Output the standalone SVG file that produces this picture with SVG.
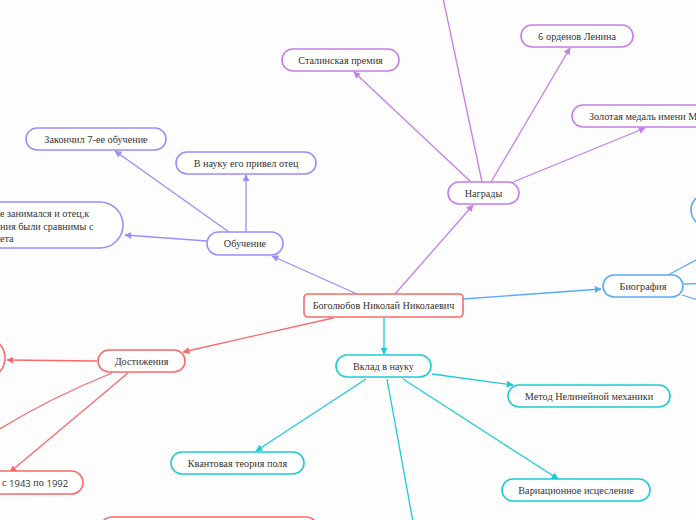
<svg xmlns="http://www.w3.org/2000/svg" width="696" height="520" viewBox="0 0 696 520">
<style>
text{font-family:"Liberation Serif","Times New Roman",serif;font-size:10.2px;fill:#333;text-anchor:middle;dominant-baseline:central}
.d{font-family:"Open Sans","DejaVu Sans",sans-serif;font-size:9.5px}
.n{fill:#fff;stroke-width:1.6}
.l{fill:none;stroke-width:1.3}
.red{stroke:#f86a6a}.vio{stroke:#9d8cfb}.pur{stroke:#c57ee9}.blu{stroke:#5aaaf5}.cya{stroke:#1ccbd6}
</style>
<defs>
<marker id="ar" viewBox="0 0 10 10" refX="9" refY="5" markerWidth="7" markerHeight="7" markerUnits="userSpaceOnUse" orient="auto"><path d="M0,0L10,5L0,10z" fill="#f86a6a"/></marker>
<marker id="av" viewBox="0 0 10 10" refX="9" refY="5" markerWidth="7" markerHeight="7" markerUnits="userSpaceOnUse" orient="auto"><path d="M0,0L10,5L0,10z" fill="#9d8cfb"/></marker>
<marker id="ap" viewBox="0 0 10 10" refX="9" refY="5" markerWidth="7" markerHeight="7" markerUnits="userSpaceOnUse" orient="auto"><path d="M0,0L10,5L0,10z" fill="#c57ee9"/></marker>
<marker id="ab" viewBox="0 0 10 10" refX="9" refY="5" markerWidth="7" markerHeight="7" markerUnits="userSpaceOnUse" orient="auto"><path d="M0,0L10,5L0,10z" fill="#5aaaf5"/></marker>
<marker id="ac" viewBox="0 0 10 10" refX="9" refY="5" markerWidth="7" markerHeight="7" markerUnits="userSpaceOnUse" orient="auto"><path d="M0,0L10,5L0,10z" fill="#1ccbd6"/></marker>
</defs>
<rect width="696" height="520" fill="#fdfdfd"/>
<g id="connectors">
<line class="l vio" x1="357" y1="294" x2="272" y2="256" marker-end="url(#av)"/>
<line class="l vio" x1="229" y1="232" x2="115" y2="151" marker-end="url(#av)"/>
<line class="l vio" x1="246" y1="232" x2="246" y2="175" marker-end="url(#av)"/>
<line class="l vio" x1="207" y1="241" x2="125" y2="235" marker-end="url(#av)"/>
<line class="l pur" x1="395" y1="294" x2="473" y2="205" marker-end="url(#ap)"/>
<line class="l pur" x1="471" y1="182" x2="354" y2="72" marker-end="url(#ap)"/>
<line class="l pur" x1="491" y1="182" x2="570" y2="48" marker-end="url(#ap)"/>
<line class="l pur" x1="513" y1="182" x2="645" y2="128" marker-end="url(#ap)"/>
<line class="l pur" x1="482" y1="182" x2="443" y2="-2"/>
<line class="l blu" x1="463" y1="299" x2="601" y2="289" marker-end="url(#ab)"/>
<line class="l blu" x1="668" y1="275" x2="698" y2="259"/>
<line class="l blu" x1="684" y1="284" x2="698" y2="283.5"/>
<line class="l blu" x1="682" y1="295" x2="698" y2="300"/>
<line class="l red" x1="333" y1="318" x2="183" y2="352" marker-end="url(#ar)"/>
<line class="l red" x1="97" y1="361" x2="7" y2="360" marker-end="url(#ar)"/>
<path class="l red" d="M112,373 Q50,398 -2,430"/>
<line class="l red" x1="128" y1="373" x2="10" y2="472" marker-end="url(#ar)"/>
<line class="l cya" x1="384" y1="318" x2="384" y2="354" marker-end="url(#ac)"/>
<line class="l cya" x1="432" y1="374" x2="513" y2="385" marker-end="url(#ac)"/>
<line class="l cya" x1="366" y1="379" x2="256" y2="451" marker-end="url(#ac)"/>
<line class="l cya" x1="403" y1="379" x2="558" y2="479" marker-end="url(#ac)"/>
<line class="l cya" x1="387" y1="379" x2="413" y2="522"/>
</g>
<g id="center"><rect class="n red" x="304" y="294" width="159" height="23" rx="4"/><text x="383.5" y="305.5">Боголюбов Николай Николаевич</text></g>
<g id="obuchenie"><rect class="n vio" x="207" y="232" width="76" height="23" rx="11.5"/><text x="245" y="243.5">Обучение</text></g>
<g id="zakonchil"><rect class="n vio" x="26" y="128" width="140" height="22" rx="11"/><text x="96" y="139">Закончил <tspan class="d">7</tspan>-ее обучение</text></g>
<g id="v-nauku"><rect class="n vio" x="176" y="152" width="140" height="22" rx="11"/><text x="246" y="163">В науку его привел отец</text></g>
<g id="otec"><rect class="n vio" x="-60" y="202" width="183" height="46" rx="23"/><text x="0" y="213" style="text-anchor:start">е занимался и отец,к</text><text x="0" y="226" style="text-anchor:start">ния были сравнимы с</text><text x="0" y="238" style="text-anchor:start">ета</text></g>
<g id="nagrady"><rect class="n pur" x="448" y="182" width="71" height="22" rx="11"/><text x="483.5" y="193">Награды</text></g>
<g id="stalin"><rect class="n pur" x="282" y="49" width="117" height="22" rx="11"/><text x="340.5" y="60">Сталинская премия</text></g>
<g id="lenin"><rect class="n pur" x="521" y="25" width="112" height="22" rx="11"/><text x="577" y="36"><tspan class="d">6</tspan> орденов Ленина</text></g>
<g id="zolotaya"><rect class="n pur" x="572" y="105" width="150" height="22" rx="11"/><text x="589" y="116" style="text-anchor:start">Золотая медаль имени М</text></g>
<g id="biografiya"><rect class="n blu" x="603" y="275" width="80" height="22" rx="11"/><text x="643" y="286">Биография</text></g>
<g id="bio-top"><rect class="n blu" x="691" y="194" width="60" height="32" rx="16"/></g>
<g id="dostizheniya"><rect class="n red" x="98" y="350" width="87" height="22" rx="11"/><text x="141.5" y="361">Достижения</text></g>
<g id="dost-left"><rect class="n red" x="-60" y="337" width="65" height="42" rx="21"/></g>
<g id="dost-1943"><rect class="n red" x="-60" y="471" width="143" height="23" rx="11.5"/><text x="2" y="482.5" style="text-anchor:start">с <tspan class="d">1943</tspan> по <tspan class="d">1992</tspan></text></g>
<g id="dost-bottom"><rect class="n red" x="100" y="517" width="218" height="30" rx="12"/></g>
<g id="vklad"><rect class="n cya" x="336" y="355" width="95" height="22" rx="11"/><text x="383.5" y="366">Вклад в науку</text></g>
<g id="metod"><rect class="n cya" x="508" y="385" width="162" height="22" rx="11"/><text x="589" y="396">Метод Нелинейной механики</text></g>
<g id="kvant"><rect class="n cya" x="171" y="452" width="133" height="22" rx="11"/><text x="237.5" y="463">Квантовая теория поля</text></g>
<g id="variac"><rect class="n cya" x="502" y="479" width="148" height="22" rx="11"/><text x="576" y="490">Вариационное исцесление</text></g>
</svg>
